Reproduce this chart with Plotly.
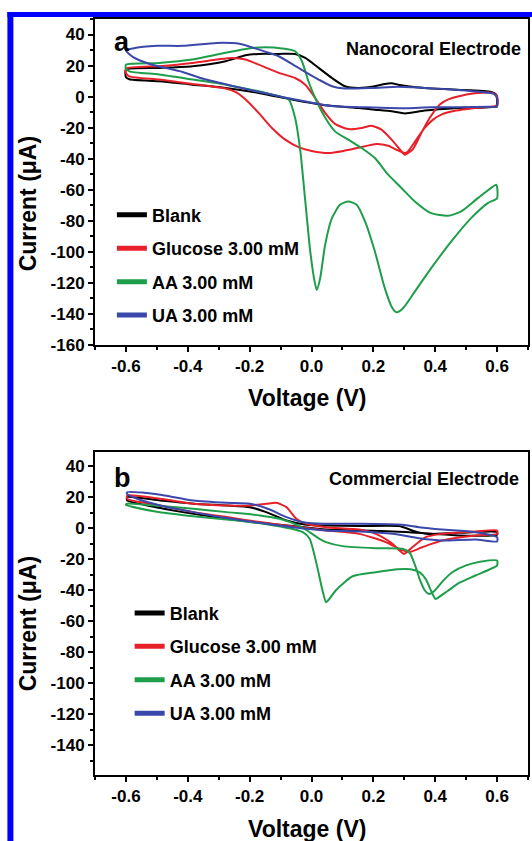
import plotly.graph_objects as go

# ---------------- data ----------------
series_names = ["Blank", "Glucose 3.00 mM", "AA 3.00 mM", "UA 3.00 mM"]
series_colors = ["#000000", "#e8202a", "#1e9e4a", "#3b48ab"]

# Panel a: Nanocoral electrode (closed CV loops, forward then reverse)
a_blank_v = [-0.600, -0.492, -0.385, -0.278, -0.213, -0.171, -0.106, -0.053, -0.020, 0.023, 0.066, 0.108,
             0.151, 0.205, 0.237, 0.259, 0.280, 0.312, 0.366, 0.473, 0.581, 0.597, 0.600,
             0.597, 0.473, 0.366, 0.302, 0.259, 0.205, 0.151, 0.044, -0.063, -0.171, -0.278, -0.385,
             -0.492, -0.589, -0.600, -0.600]
a_blank_i = [17.4, 18.5, 19.6, 22.8, 26.7, 27.5, 27.5, 27.5, 24.9, 18.5, 12.0, 6.7,
             5.6, 6.7, 8.2, 8.6, 7.7, 6.7, 5.6, 4.5, 3.0, 1.3, -2.5,
             -6.2, -7.3, -9.0, -10.8, -9.5, -8.4, -7.3, -5.6, -1.9, 2.4, 5.6, 7.7,
             9.9, 11.2, 12.5, 17.4]

a_glu_v = [-0.600, -0.492, -0.385, -0.299, -0.256, -0.213, -0.171, -0.106, -0.053, -0.020, 0.012, 0.044,
           0.076, 0.119, 0.162, 0.194, 0.226, 0.259, 0.285, 0.302, 0.328, 0.355, 0.382, 0.414, 0.446,
           0.511, 0.586, 0.600,
           0.600, 0.527, 0.468, 0.420, 0.393, 0.366, 0.339, 0.312, 0.302, 0.275, 0.248, 0.210, 0.151,
           0.103, 0.055, 0.001, -0.042, -0.085, -0.128, -0.171, -0.213, -0.246, -0.278, -0.385, -0.492,
           -0.589, -0.600, -0.600]
a_glu_i = [18.1, 19.6, 21.7, 24.1, 24.9, 23.9, 20.6, 15.3, 12.0, 7.7, -0.9, -10.5,
           -17.6, -20.9, -20.2, -18.7, -21.3, -27.7, -33.8, -37.4, -33.8, -23.4, -13.8, -5.2, -1.5,
           1.7, 2.4, 0.2,
           -5.6, -7.3, -9.0, -11.6, -14.8, -20.2, -27.7, -35.3, -36.3, -34.2, -31.6, -30.5, -33.0,
           -35.0, -36.3, -35.0, -32.5, -27.7, -20.2, -10.5, -1.9, 3.0, 5.2, 8.2, 11.0,
           13.1, 15.3, 18.1]

a_aa_v = [-0.600, -0.492, -0.385, -0.278, -0.203, -0.149, -0.095, -0.053, -0.031, -0.010, 0.012, 0.044,
          0.076, 0.119, 0.162, 0.205, 0.248, 0.291, 0.334, 0.387, 0.441, 0.484, 0.538, 0.597, 0.600,
          0.600, 0.570, 0.516, 0.452, 0.387, 0.334, 0.296, 0.275, 0.259, 0.237, 0.205, 0.173, 0.146,
          0.119, 0.092, 0.066, 0.044, 0.028, 0.017, 0.010, -0.004, -0.020, -0.036, -0.053, -0.074,
          -0.149, -0.224, -0.278, -0.385, -0.492, -0.589, -0.600, -0.600]
a_aa_i = [20.6, 21.7, 23.9, 28.2, 31.0, 31.8, 31.0, 29.2, 22.8, 9.9, -0.9, -13.5,
          -22.4, -27.7, -33.1, -39.6, -50.3, -58.9, -67.5, -75.1, -76.8, -74.0, -65.4, -56.8, -58.0,
          -65.4, -68.6, -78.3, -93.3, -110.5, -125.6, -136.3, -138.9, -135.3, -123.4, -99.8, -80.4, -69.7,
          -67.5, -69.7, -78.3, -95.5, -117.0, -124.5, -119.0, -99.8, -67.5, -35.3, -13.8, -1.9,
          2.4, 5.6, 7.7, 11.0, 14.2, 16.3, 18.0, 20.6]

a_ua_v = [-0.600, -0.578, -0.500, -0.417, -0.307, -0.233, -0.147, -0.106, -0.042, 0.023, 0.066, 0.108,
          0.200, 0.280, 0.366, 0.473, 0.549, 0.590, 0.600,
          0.600, 0.577, 0.473, 0.388, 0.300, 0.200, 0.066, -0.010, -0.095, -0.180, -0.256, -0.350,
          -0.417, -0.523, -0.578, -0.600]
a_ua_i = [29.7, 31.0, 32.7, 32.7, 34.6, 34.0, 28.8, 26.0, 18.5, 11.0, 6.7, 5.2,
          5.6, 6.3, 5.6, 4.3, 3.0, 1.8, -1.0,
          -6.5, -6.5, -6.9, -6.9, -7.5, -7.0, -6.0, -3.5, -0.2, 3.5, 6.9, 11.5,
          15.9, 21.0, 25.6, 29.7]

# Panel b: Commercial electrode
b_blank_v = [-0.596, -0.489, -0.382, -0.274, -0.199, -0.146, -0.081, -0.017, 0.047, 0.154, 0.283, 0.326,
             0.369, 0.476, 0.600,
             0.600, 0.476, 0.315, 0.154, 0.047, -0.060, -0.167, -0.274, -0.382, -0.489, -0.596, -0.596]
b_blank_i = [20.0, 17.8, 15.7, 14.6, 13.5, 10.3, 4.9, 2.2, 1.7, 1.3, 1.3, -1.5,
             -3.7, -3.0, -2.6,
             -4.3, -4.7, -2.6, -1.5, -0.9, 1.3, 3.4, 6.0, 9.2, 12.9, 17.8, 20.0]

b_glu_v = [-0.596, -0.489, -0.381, -0.274, -0.199, -0.146, -0.114, -0.081, -0.049, -0.017, 0.047, 0.154,
           0.208, 0.262, 0.299, 0.326, 0.369, 0.422, 0.530, 0.600,
           0.600, 0.530, 0.422, 0.358, 0.315, 0.283, 0.240, 0.154, 0.047, -0.038, -0.167, -0.274,
           -0.382, -0.489, -0.596, -0.596]
b_glu_i = [21.0, 18.9, 15.7, 14.6, 14.6, 15.7, 16.3, 13.5, 6.0, 2.8, 0.6, -0.9,
           -3.7, -10.1, -16.6, -12.3, -5.8, -3.7, -2.2, -1.5,
           -3.7, -4.7, -8.0, -12.3, -15.5, -13.3, -9.0, -3.7, -1.5, 0.6, 3.9, 7.1,
           10.3, 14.6, 18.9, 21.0]

b_aa_v = [-0.600, -0.500, -0.400, -0.300, -0.200, -0.100, -0.028, -0.006, 0.015, 0.037, 0.047, 0.060,
          0.079, 0.133, 0.208, 0.280, 0.320, 0.350, 0.370, 0.388, 0.401, 0.415, 0.440, 0.480, 0.530, 0.600,
          0.600, 0.550, 0.500, 0.455, 0.425, 0.397, 0.380, 0.366, 0.350, 0.335, 0.318, 0.294, 0.208,
          0.101, 0.047, 0.026, -0.006, -0.038, -0.103, -0.167, -0.274, -0.382, -0.490, -0.596, -0.600]
b_aa_i = [15.0, 10.5, 8.0, 6.0, 4.0, 1.0, -2.6, -6.9, -21.9, -41.3, -47.7, -45.0,
          -40.0, -31.0, -28.4, -26.5, -26.5, -28.5, -33.0, -41.0, -45.6, -44.0, -40.5, -35.0, -30.5, -24.0,
          -20.9, -21.5, -24.0, -28.4, -34.0, -40.5, -42.4, -40.0, -33.0, -24.0, -16.0, -13.3, -12.9,
          -11.6, -9.0, -6.9, -2.6, 1.3, 6.0, 8.2, 10.3, 12.5, 14.2, 15.7, 15.0]

b_ua_v = [-0.596, -0.542, -0.489, -0.382, -0.274, -0.199, -0.135, -0.081, -0.017, 0.047, 0.154, 0.294,
          0.348, 0.422, 0.530, 0.600,
          0.600, 0.530, 0.422, 0.348, 0.262, 0.154, 0.047, -0.060, -0.167, -0.274, -0.382, -0.489,
          -0.564, -0.596, -0.596]
b_ua_i = [23.2, 22.8, 21.5, 17.8, 16.3, 15.7, 12.0, 7.1, 3.4, 2.8, 2.8, 2.2,
          0.6, -0.9, -2.6, -5.8,
          -8.6, -7.3, -8.0, -6.5, -3.7, -2.2, -1.5, 0.6, 3.4, 6.5, 10.3, 14.6,
          18.9, 22.0, 23.2]

x_ticks = [-0.6, -0.4, -0.2, 0.0, 0.2, 0.4, 0.6]
x_tick_labels = ["-0.6", "-0.4", "-0.2", "0.0", "0.2", "0.4", "0.6"]
x_minor = [-0.7, -0.5, -0.3, -0.1, 0.1, 0.3, 0.5, 0.7]
ya_ticks = [40, 20, 0, -20, -40, -60, -80, -100, -120, -140, -160]
yb_ticks = [40, 20, 0, -20, -40, -60, -80, -100, -120, -140]
y_minor = [50, 30, 10, -10, -30, -50, -70, -90, -110, -130, -150]
panel_titles = ["Nanocoral Electrode", "Commercial Electrode"]
panel_letters = ["a", "b"]
x_title = "Voltage (V)"
y_title = "Current (μA)"

# ---------------- figure ----------------
FONT = "Liberation Sans, Arial, sans-serif"
fig = go.Figure()

panel_a = [(a_blank_v, a_blank_i), (a_glu_v, a_glu_i), (a_aa_v, a_aa_i), (a_ua_v, a_ua_i)]
panel_b = [(b_blank_v, b_blank_i), (b_glu_v, b_glu_i), (b_aa_v, b_aa_i), (b_ua_v, b_ua_i)]

for (xs, ys), col in zip(panel_a, series_colors):
    fig.add_trace(go.Scatter(x=xs, y=ys, mode="lines", xaxis="x", yaxis="y",
                             line=dict(color=col, width=2, shape="spline", smoothing=0.6),
                             showlegend=False, hoverinfo="skip"))
for (xs, ys), col in zip(panel_b, series_colors):
    fig.add_trace(go.Scatter(x=xs, y=ys, mode="lines", xaxis="x2", yaxis="y2",
                             line=dict(color=col, width=2, shape="spline", smoothing=0.6),
                             showlegend=False, hoverinfo="skip"))

# legend entries (thick sample lines)
for k, (nm, col) in enumerate(zip(series_names, series_colors)):
    fig.add_trace(go.Scatter(x=[None], y=[None], mode="lines", name=nm, xaxis="x", yaxis="y",
                             line=dict(color=col, width=5), legend="legend", legendgroup=f"a{k}"))
    fig.add_trace(go.Scatter(x=[None], y=[None], mode="lines", name=nm, xaxis="x2", yaxis="y2",
                             line=dict(color=col, width=5), legend="legend2", legendgroup=f"b{k}"))

tickfont = dict(family=FONT, size=17, color="black", weight="bold")
common_x = dict(range=[-0.7, 0.7], tickmode="array", tickvals=x_ticks, ticktext=x_tick_labels,
                ticks="outside", ticklen=5, tickwidth=1.5, tickcolor="black",
                minor=dict(ticks="outside", ticklen=3, tickwidth=1.5, tickcolor="black",
                           tickmode="array", tickvals=x_minor),
                showline=True, linewidth=2, linecolor="black", mirror=True,
                showgrid=False, zeroline=False, tickfont=tickfont)
common_y = dict(tickmode="array",
                ticks="outside", ticklen=5, tickwidth=1.5, tickcolor="black",
                minor=dict(ticks="outside", ticklen=3, tickwidth=1.5, tickcolor="black",
                           tickmode="array", tickvals=y_minor),
                showline=True, linewidth=2, linecolor="black", mirror=True,
                showgrid=False, zeroline=False, tickfont=tickfont)

fig.update_layout(
    width=532, height=841,
    margin=dict(l=95, r=2, t=19, b=66),
    paper_bgcolor="white", plot_bgcolor="white",
    xaxis=dict(domain=[0, 1], anchor="y", **common_x),
    yaxis=dict(domain=[0.5688, 1.0], anchor="x", range=[-160, 50],
               tickvals=ya_ticks, ticktext=[str(v) for v in ya_ticks], **common_y),
    xaxis2=dict(domain=[0, 1], anchor="y2", **common_x),
    yaxis2=dict(domain=[0.0, 0.4272], anchor="x2", range=[-159, 49],
                tickvals=yb_ticks, ticktext=[str(v) for v in yb_ticks], **common_y),
    legend=dict(x=0.039, y=0.765, xanchor="left", yanchor="top", traceorder="grouped",
                tracegroupgap=7, bgcolor="rgba(0,0,0,0)",
                font=dict(family=FONT, size=18, color="black", weight="bold")),
    legend2=dict(x=0.08, y=0.2384, xanchor="left", yanchor="top", traceorder="grouped",
                 tracegroupgap=7, bgcolor="rgba(0,0,0,0)",
                 font=dict(family=FONT, size=18, color="black", weight="bold")),
)

ann_font = dict(family=FONT, size=18, color="black", weight="bold")
letter_font = dict(family=FONT, size=27, color="black", weight="bold")
title_font = dict(family=FONT, size=23, color="black", weight="bold")
annotations = [
    dict(text=panel_letters[0], x=0.039, y=0.9696, xanchor="left", yanchor="middle", font=letter_font),
    dict(text=panel_letters[1], x=0.039, y=0.393, xanchor="left", yanchor="middle", font=letter_font),
    dict(text=panel_titles[0], x=0.9885, y=0.9603, xanchor="right", yanchor="middle", font=ann_font),
    dict(text=panel_titles[1], x=0.9840, y=0.3915, xanchor="right", yanchor="middle", font=ann_font),
    dict(text=x_title, x=0.4885, y=0.4987, xanchor="center", yanchor="middle", font=title_font),
    dict(text=x_title, x=0.4885, y=-0.0714, xanchor="center", yanchor="middle", font=title_font),
    dict(text=y_title, x=-0.154, y=0.7553, xanchor="center", yanchor="middle", textangle=-90, font=title_font),
    dict(text=y_title, x=-0.154, y=0.1997, xanchor="center", yanchor="middle", textangle=-90, font=title_font),
]
for a in annotations:
    a.update(xref="paper", yref="paper", showarrow=False)
fig.update_layout(annotations=annotations)

# blue frame around the figure (left and top edges)
fig.update_layout(shapes=[
    dict(type="rect", xref="paper", yref="paper", x0=-0.2023, x1=-0.1885, y0=-0.12, y1=1.00926,
         fillcolor="#0000ff", line=dict(width=0), layer="above"),
    dict(type="rect", xref="paper", yref="paper", x0=-0.2023, x1=1.03, y0=1.00265, y1=1.00926,
         fillcolor="#0000ff", line=dict(width=0), layer="above"),
])

fig.write_html("out.html")
